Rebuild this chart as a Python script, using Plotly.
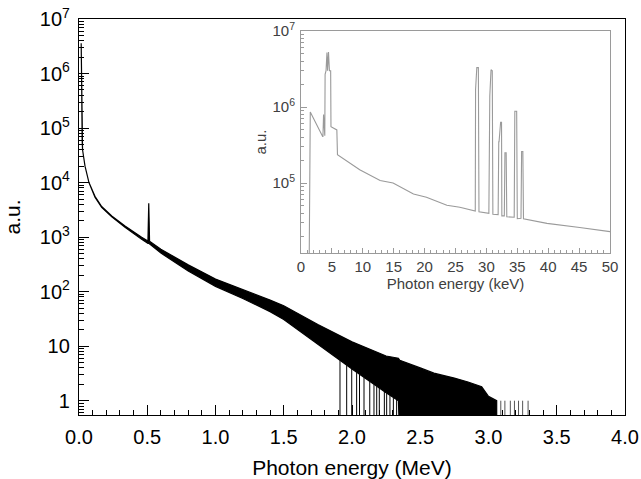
import numpy as np
import plotly.graph_objects as go

# ---------------- data ----------------
# Main spectrum (MeV): upper / lower envelope of the noisy histogram (counts, a.u.)
ENERGY_MEV = [0.016, 0.020, 0.023, 0.026, 0.044, 0.073, 0.117, 0.166, 0.240, 0.337,
              0.459, 0.505, 0.511, 0.517, 0.600, 0.800, 1.000, 1.200, 1.400, 1.500,
              1.750, 2.000, 2.250, 2.340, 2.350, 2.500, 2.600, 2.750, 2.850, 2.950,
              3.000, 3.060]
UPPER_COUNTS = [3.6e6, 5.0e5, 6.0e4, 4.0e4, 2.0e4, 1.0e4, 5.6e3, 3.65e3, 2.45e3, 1.6e3,
                990, 850, 4200, 840, 600, 310, 170, 110, 70, 55,
                25, 12, 6.6, 6, 5.5, 4, 3.2, 2.6, 2.2, 1.8,
                1.2, 1]
LOWER_COUNTS = [3.6e6, 5.0e5, 6.0e4, 4.0e4, 2.0e4, 1.0e4, 5.4e3, 3.5e3, 2.35e3, 1.52e3,
                910, 770, 770, 760, 510, 240, 125, 75, 43, 31,
                11, 3.8, 1.4, 1, 0, 0, 0, 0, 0, 0,
                0, 0]
# channels with zero counts (drop below the axis) before the dense tail
EMPTY_CHANNEL_MEV = [1.912, 1.961, 1.998, 2.034, 2.055, 2.088, 2.130, 2.161,
                     2.181, 2.200, 2.237, 2.254, 2.278, 2.303, 2.327]
# isolated single counts beyond the dense tail
SINGLE_COUNT_MEV = [3.09, 3.12, 3.16, 3.19, 3.22, 3.25, 3.29]

# Inset spectrum (keV)
INSET_KEV = [1.30, 1.40, 1.50, 3.50, 3.55, 3.65, 3.75, 3.85, 3.90, 4.05,
             4.20, 4.30, 4.45, 4.60, 4.80, 4.85, 5.80, 5.90, 9.5, 12.8,
             14.9, 18.2, 20.3, 23.6, 25.7, 28.20, 28.25, 28.45, 28.70, 28.80,
             30.40, 30.55, 30.75, 30.95, 31.05, 31.90, 32.00, 32.05, 32.30, 32.45,
             32.50, 32.90, 33.00, 33.20, 33.30, 34.50, 34.60, 34.90, 35.00, 35.60,
             35.70, 35.90, 36.00, 39.8, 45.1, 50.0]
INSET_COUNTS = [5.0e3, 1.8e5, 8.6e5, 4.1e5, 4.1e5, 8.0e5, 4.2e5, 4.2e5, 2.7e6, 3.0e6,
                5.2e6, 3.0e6, 5.3e6, 3.0e6, 3.0e6, 5.5e5, 5.0e5, 2.36e5, 1.5e5, 1.08e5,
                1.0e5, 7.2e4, 6.5e4, 5.1e4, 4.8e4, 4.3e4, 1.7e6, 3.3e6, 3.3e6, 4.2e4,
                4.0e4, 1.4e6, 3.1e6, 3.0e6, 3.9e4, 3.85e4, 3.5e5, 3.5e5, 6.3e5, 6.3e5,
                3.7e4, 3.7e4, 2.5e5, 2.5e5, 3.6e4, 3.55e4, 8.8e5, 8.8e5, 3.4e4, 3.45e4,
                2.6e5, 2.6e5, 3.4e4, 2.95e4, 2.6e4, 2.3e4]

MAIN_X_TICKS = [0.0, 0.5, 1.0, 1.5, 2.0, 2.5, 3.0, 3.5, 4.0]
MAIN_Y_TICKS = [1, 10, 1e2, 1e3, 1e4, 1e5, 1e6, 1e7]
MAIN_Y_TEXT = ["1", "10", "10<sup>2</sup>", "10<sup>3</sup>", "10<sup>4</sup>",
               "10<sup>5</sup>", "10<sup>6</sup>", "10<sup>7</sup>"]
INSET_X_TICKS = list(range(0, 55, 5))
INSET_Y_TICKS = [1e5, 1e6, 1e7]
INSET_Y_TEXT = ["10<sup>5</sup>", "10<sup>6</sup>", "10<sup>7</sup>"]

# ---------------- figure ----------------
Y_RANGE = [-0.262, 7.0]
FLOOR = 10 ** (Y_RANGE[0] - 0.5)
FONT = "Liberation Sans, Arial, sans-serif"
INSET_GREY = "#9a9a9a"
INSET_TEXT = "#404040"

e = np.array(ENERGY_MEV)
up = np.array(UPPER_COUNTS, dtype=float)
lo = np.array(LOWER_COUNTS, dtype=float)
lo_plot = np.where(lo > 0, lo, FLOOR)

fig = go.Figure()

# noisy main spectrum as a filled band between envelopes
fig.add_trace(go.Scatter(
    x=np.concatenate([e, e[::-1]]),
    y=np.concatenate([up, lo_plot[::-1]]),
    mode="lines", fill="toself", fillcolor="black",
    line=dict(color="black", width=1.2), hoverinfo="skip", showlegend=False))

# empty channels: lines dropping from the band to below the axis
ex, ey = [], []
for v in EMPTY_CHANNEL_MEV:
    top = 10 ** np.interp(v, e, np.log10(lo_plot))
    ex += [v, v, None]
    ey += [FLOOR, top, None]
fig.add_trace(go.Scatter(x=ex, y=ey, mode="lines",
                         line=dict(color="black", width=1), hoverinfo="skip", showlegend=False))

sx, sy = [], []
for v in SINGLE_COUNT_MEV:
    sx += [v, v, None]
    sy += [FLOOR, 1, None]
fig.add_trace(go.Scatter(x=sx, y=sy, mode="lines",
                         line=dict(color="#555555", width=1), hoverinfo="skip", showlegend=False))

# inset
fig.add_trace(go.Scatter(x=INSET_KEV, y=INSET_COUNTS, mode="lines",
                         line=dict(color=INSET_GREY, width=1.1),
                         xaxis="x2", yaxis="y2", hoverinfo="skip", showlegend=False))

minor_main_y = [k * 10 ** n for n in range(-1, 7) for k in range(2, 10)]
minor_inset_y = [k * 10 ** n for n in range(4, 7) for k in range(2, 10)]

fig.update_layout(
    width=641, height=479,
    margin=dict(l=79, r=16, t=19, b=64),
    paper_bgcolor="white", plot_bgcolor="white",
    font=dict(family=FONT, color="black", size=20),
    showlegend=False,
    xaxis=dict(domain=[0, 1], range=[0, 4], tickvals=MAIN_X_TICKS, tickformat=".1f",
               ticks="inside", ticklen=10, tickwidth=1.2, tickcolor="black",
               minor=dict(ticks="inside", ticklen=5, dtick=0.1, tickcolor="black", showgrid=False),
               showline=True, linecolor="black", linewidth=1.3, mirror=True,
               showgrid=False, zeroline=False, automargin=False,
               tickfont=dict(size=20), ticklabelstandoff=4,
               title=dict(text="Photon energy (MeV)", font=dict(size=21), standoff=14)),
    yaxis=dict(domain=[0, 1], type="log", range=Y_RANGE,
               tickvals=MAIN_Y_TICKS, ticktext=MAIN_Y_TEXT,
               ticks="inside", ticklen=10, tickwidth=1.2, tickcolor="black",
               minor=dict(ticks="inside", ticklen=5, tickvals=minor_main_y, tickcolor="black", showgrid=False),
               showline=True, linecolor="black", linewidth=1.3, mirror=True,
               showgrid=False, zeroline=False, automargin=False,
               tickfont=dict(size=20), ticklabelstandoff=4,
               title=dict(text="a.u.", font=dict(size=21), standoff=13)),
    xaxis2=dict(domain=[0.4066, 0.9725], anchor="y2", range=[0, 50],
                tickvals=INSET_X_TICKS,
                ticks="inside", ticklen=5, tickwidth=1, tickcolor=INSET_GREY,
                minor=dict(ticks="inside", ticklen=3, dtick=1, tickcolor=INSET_GREY, showgrid=False),
                showline=True, linecolor=INSET_GREY, linewidth=1, mirror=True,
                showgrid=False, zeroline=False, automargin=False,
                tickfont=dict(size=15, color=INSET_TEXT),
                title=dict(text="Photon energy (keV)", font=dict(size=15, color=INSET_TEXT), standoff=2)),
    yaxis2=dict(domain=[0.409, 0.9697], anchor="x2", type="log", range=[4.08, 7.0],
                tickvals=INSET_Y_TICKS, ticktext=INSET_Y_TEXT,
                ticks="inside", ticklen=6, tickwidth=1, tickcolor=INSET_GREY,
                minor=dict(ticks="inside", ticklen=3, tickvals=minor_inset_y, tickcolor=INSET_GREY, showgrid=False),
                showline=True, linecolor=INSET_GREY, linewidth=1, mirror=True,
                showgrid=False, zeroline=False, automargin=False,
                tickfont=dict(size=15, color=INSET_TEXT), ticklabelstandoff=2,
                title=dict(text="a.u.", font=dict(size=15, color=INSET_TEXT), standoff=2)),
)

fig.write_html("out.html", config={"displayModeBar": False},
               post_script="document.body.style.margin='0px';")
